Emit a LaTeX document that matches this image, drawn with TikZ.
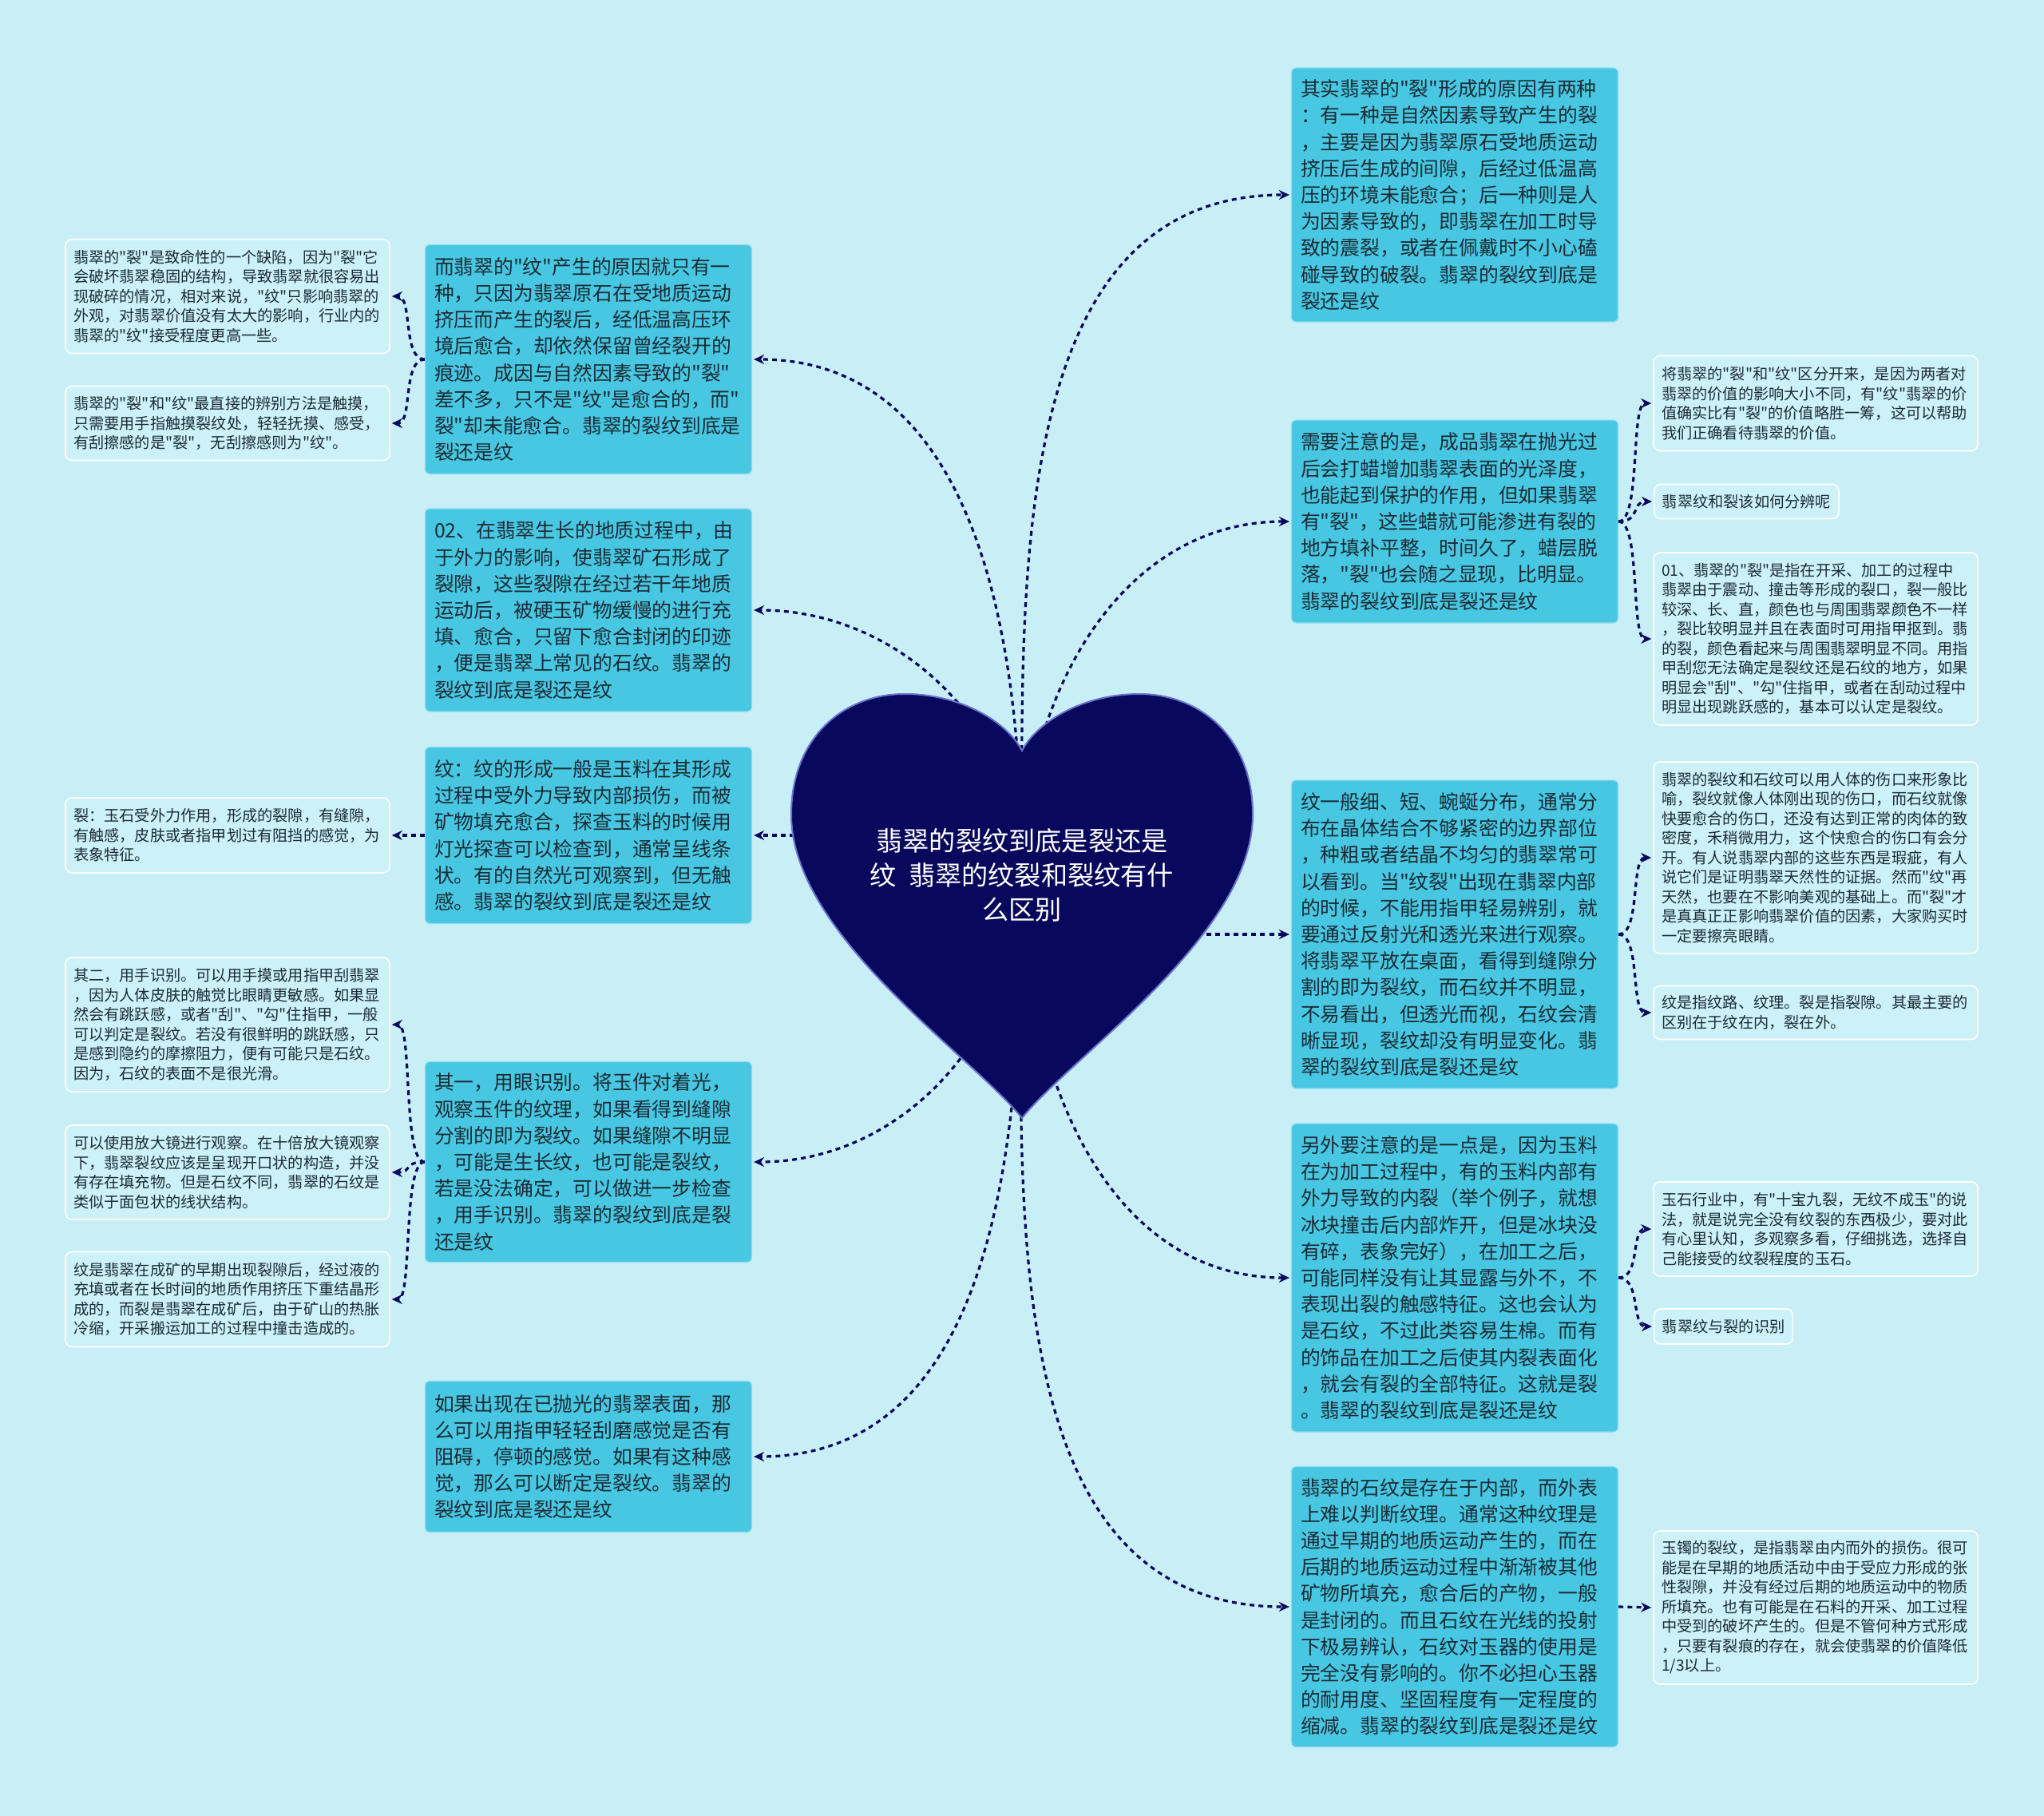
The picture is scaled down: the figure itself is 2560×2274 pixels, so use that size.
\documentclass[tikz,border=0pt]{standalone}
\usepackage{fontspec}
\newfontfamily\cjk{Noto Sans CJK SC}
\usetikzlibrary{arrows.meta}
\usetikzlibrary{positioning}
\definecolor{bgcyan}{HTML}{C8EEF6}
\definecolor{boxcyan}{HTML}{48C7E3}
\definecolor{boxedge}{HTML}{8FDDEF}
\definecolor{leaffill}{HTML}{CDF1F9}
\definecolor{inkdark}{HTML}{1B2B33}
\definecolor{navy}{HTML}{08085C}
\definecolor{heartedge}{HTML}{6A72D0}

\begin{document}
\begin{tikzpicture}[
    x=0.5pt, y=0.5pt,
    topic/.style={rectangle, rounded corners=3pt, fill=boxcyan, draw=boxedge, line width=0.6pt,
        text width=193pt, inner xsep=5.75pt, inner ysep=0pt, align=left, text=inkdark,
        font=\cjk\fontsize{12.4pt}{16.6pt}\selectfont},
    leaf/.style={rectangle, rounded corners=4pt, fill=leaffill, draw=white, line width=0.8pt,
        text width=193pt, inner xsep=5pt, inner ysep=0pt, align=left, text=inkdark,
        font=\cjk\fontsize{9.6pt}{12.25pt}\selectfont},
    tag/.style={rectangle, rounded corners=4pt, fill=leaffill, draw=white, line width=0.8pt,
        inner xsep=5pt, inner ysep=0pt, text=inkdark, anchor=west,
        font=\cjk\fontsize{9.6pt}{12.25pt}\selectfont},
    title/.style={align=center, text=white, font=\cjk\fontsize{16.6pt}{21.5pt}\selectfont},
    link/.style={draw=navy, line width=1.6pt, dash pattern=on 3pt off 2.6pt,
        -{Stealth[length=6.5pt,width=6pt]}, shorten >=1pt},
    >=Stealth
]

% --- Background ---
\fill[bgcyan] (0,0) rectangle (2560,-2274);
\useasboundingbox (0,0) rectangle (2560,-2274);

% --- Left topics ---
\node[topic, minimum height=143.5pt] (lm1) at (737,-450) {而翡翠的"纹"产生的原因就只有一\\种，只因为翡翠原石在受地质运动\\挤压而产生的裂后，经低温高压环\\境后愈合，却依然保留曾经裂开的\\痕迹。成因与自然因素导致的"裂"\\差不多，只不是"纹"是愈合的，而"\\裂"却未能愈合。翡翠的裂纹到底是\\裂还是纹};
\node[topic, minimum height=127pt] (lm2) at (737,-764) {02、在翡翠生长的地质过程中，由\\于外力的影响，使翡翠矿石形成了\\裂隙，这些裂隙在经过若干年地质\\运动后，被硬玉矿物缓慢的进行充\\填、愈合，只留下愈合封闭的印迹\\，便是翡翠上常见的石纹。翡翠的\\裂纹到底是裂还是纹};
\node[topic, minimum height=110.5pt] (lm3) at (737,-1046) {纹：纹的形成一般是玉料在其形成\\过程中受外力导致内部损伤，而被\\矿物填充愈合，探查玉料的时候用\\灯光探查可以检查到，通常呈线条\\状。有的自然光可观察到，但无触\\感。翡翠的裂纹到底是裂还是纹};
\node[topic, minimum height=125.5pt] (lm4) at (737,-1455) {其一，用眼识别。将玉件对着光，\\观察玉件的纹理，如果看得到缝隙\\分割的即为裂纹。如果缝隙不明显\\，可能是生长纹，也可能是裂纹，\\若是没法确定，可以做进一步检查\\，用手识别。翡翠的裂纹到底是裂\\还是纹};
\node[topic, minimum height=94.5pt] (lm5) at (737,-1824) {如果出现在已抛光的翡翠表面，那\\么可以用指甲轻轻刮磨感觉是否有\\阻碍，停顿的感觉。如果有这种感\\觉，那么可以断定是裂纹。翡翠的\\裂纹到底是裂还是纹};

% --- Left details ---
\node[leaf, minimum height=71.5pt] (ls1) at (285,-371) {翡翠的"裂"是致命性的一个缺陷，因为"裂"它\\会破坏翡翠稳固的结构，导致翡翠就很容易出\\现破碎的情况，相对来说，"纹"只影响翡翠的\\外观，对翡翠价值没有太大的影响，行业内的\\翡翠的"纹"接受程度更高一些。};
\node[leaf, minimum height=46.5pt] (ls2) at (285,-530) {翡翠的"裂"和"纹"最直接的辨别方法是触摸，\\只需要用手指触摸裂纹处，轻轻抚摸、感受，\\有刮擦感的是"裂"，无刮擦感则为"纹"。};
\node[leaf, minimum height=47pt] (ls3) at (285,-1046) {裂：玉石受外力作用，形成的裂隙，有缝隙，\\有触感，皮肤或者指甲划过有阻挡的感觉，为\\表象特征。};
\node[leaf, minimum height=84pt] (ls4) at (285,-1283) {其二，用手识别。可以用手摸或用指甲刮翡翠\\，因为人体皮肤的触觉比眼睛更敏感。如果显\\然会有跳跃感，或者"刮"、"勾"住指甲，一般\\可以判定是裂纹。若没有很鲜明的跳跃感，只\\是感到隐约的摩擦阻力，便有可能只是石纹。\\因为，石纹的表面不是很光滑。};
\node[leaf, minimum height=59pt] (ls5) at (285,-1468) {可以使用放大镜进行观察。在十倍放大镜观察\\下，翡翠裂纹应该是呈现开口状的构造，并没\\有存在填充物。但是石纹不同，翡翠的石纹是\\类似于面包状的线状结构。};
\node[leaf, minimum height=59.5pt] (ls6) at (285,-1627) {纹是翡翠在成矿的早期出现裂隙后，经过液的\\充填或者在长时间的地质作用挤压下重结晶形\\成的，而裂是翡翠在成矿后，由于矿山的热胀\\冷缩，开采搬运加工的过程中撞击造成的。};

% --- Right topics ---
\node[topic, minimum height=159pt] (rm1) at (1822,-244) {其实翡翠的"裂"形成的原因有两种\\：有一种是自然因素导致产生的裂\\，主要是因为翡翠原石受地质运动\\挤压后生成的间隙，后经过低温高\\压的环境未能愈合；后一种则是人\\为因素导致的，即翡翠在加工时导\\致的震裂，或者在佩戴时不小心磕\\碰导致的破裂。翡翠的裂纹到底是\\裂还是纹};
\node[topic, minimum height=127pt] (rm2) at (1822,-653) {需要注意的是，成品翡翠在抛光过\\后会打蜡增加翡翠表面的光泽度，\\也能起到保护的作用，但如果翡翠\\有"裂"，这些蜡就可能渗进有裂的\\地方填补平整，时间久了，蜡层脱\\落，"裂"也会随之显现，比明显。\\翡翠的裂纹到底是裂还是纹};
\node[topic, minimum height=193pt] (rm3) at (1822,-1170) {纹一般细、短、蜿蜒分布，通常分\\布在晶体结合不够紧密的边界部位\\，种粗或者结晶不均匀的翡翠常可\\以看到。当"纹裂"出现在翡翠内部\\的时候，不能用指甲轻易辨别，就\\要通过反射光和透光来进行观察。\\将翡翠平放在桌面，看得到缝隙分\\割的即为裂纹，而石纹并不明显，\\不易看出，但透光而视，石纹会清\\晰显现，裂纹却没有明显变化。翡\\翠的裂纹到底是裂还是纹};
\node[topic, minimum height=193pt] (rm4) at (1822,-1600) {另外要注意的是一点是，因为玉料\\在为加工过程中，有的玉料内部有\\外力导致的内裂（举个例子，就想\\冰块撞击后内部炸开，但是冰块没\\有碎，表象完好），在加工之后，\\可能同样没有让其显露与外不，不\\表现出裂的触感特征。这也会认为\\是石纹，不过此类容易生棉。而有\\的饰品在加工之后使其内裂表面化\\，就会有裂的全部特征。这就是裂\\。翡翠的裂纹到底是裂还是纹};
\node[topic, minimum height=175.5pt] (rm5) at (1822,-2012) {翡翠的石纹是存在于内部，而外表\\上难以判断纹理。通常这种纹理是\\通过早期的地质运动产生的，而在\\后期的地质运动过程中渐渐被其他\\矿物所填充，愈合后的产物，一般\\是封闭的。而且石纹在光线的投射\\下极易辨认，石纹对玉器的使用是\\完全没有影响的。你不必担心玉器\\的耐用度、坚固程度有一定程度的\\缩减。翡翠的裂纹到底是裂还是纹};

% --- Right details ---
\node[leaf, minimum height=59.5pt] (rs1) at (2274,-505) {将翡翠的"裂"和"纹"区分开来，是因为两者对\\翡翠的价值的影响大小不同，有"纹"翡翠的价\\值确实比有"裂"的价值略胜一筹，这可以帮助\\我们正确看待翡翠的价值。};
\node[tag, minimum height=21.5pt] (rs2) at (2071,-628) {翡翠纹和裂该如何分辨呢};
\node[leaf, minimum height=108pt] (rs3) at (2274,-800) {01、翡翠的"裂"是指在开采、加工的过程中\\翡翠由于震动、撞击等形成的裂口，裂一般比\\较深、长、直，颜色也与周围翡翠颜色不一样\\，裂比较明显并且在表面时可用指甲抠到。翡\\的裂，颜色看起来与周围翡翠明显不同。用指\\甲刮您无法确定是裂纹还是石纹的地方，如果\\明显会"刮"、"勾"住指甲，或者在刮动过程中\\明显出现跳跃感的，基本可以认定是裂纹。};
\node[leaf, minimum height=120pt] (rs4) at (2274,-1074) {翡翠的裂纹和石纹可以用人体的伤口来形象比\\喻，裂纹就像人体刚出现的伤口，而石纹就像\\快要愈合的伤口，还没有达到正常的肉体的致\\密度，禾稍微用力，这个快愈合的伤口有会分\\开。有人说翡翠内部的这些东西是瑕疵，有人\\说它们是证明翡翠天然性的证据。然而"纹"再\\天然，也要在不影响美观的基础上。而"裂"才\\是真真正正影响翡翠价值的因素，大家购买时\\一定要擦亮眼睛。};
\node[leaf, minimum height=33.5pt] (rs5) at (2274,-1268) {纹是指纹路、纹理。裂是指裂隙。其最主要的\\区别在于纹在内，裂在外。};
\node[leaf, minimum height=59pt] (rs6) at (2274,-1539) {玉石行业中，有"十宝九裂，无纹不成玉"的说\\法，就是说完全没有纹裂的东西极少，要对此\\有心里认知，多观察多看，仔细挑选，选择自\\己能接受的纹裂程度的玉石。};
\node[tag, minimum height=22pt] (rs7) at (2071,-1661) {翡翠纹与裂的识别};
\node[leaf, minimum height=96pt] (rs8) at (2274,-2013) {玉镯的裂纹，是指翡翠由内而外的损伤。很可\\能是在早期的地质活动中由于受应力形成的张\\性裂隙，并没有经过后期的地质运动中的物质\\所填充。也有可能是在石料的开采、加工过程\\中受到的破坏产生的。但是不管何种方式形成\\，只要有裂痕的存在，就会使翡翠的价值降低\\1/3以上。};

% --- Hub points under the heart ---
\coordinate (hub) at (1280,-1096);
\coordinate (hubL) at (1040,-1046);
\coordinate (hubR) at (1500,-1170);

% --- Heart to topics ---
\foreach \b in {lm1,lm2}
    \draw[link] (hub) to[out=90,in=0] (\b.east);
\foreach \b in {lm4,lm5}
    \draw[link] (hub) to[out=-90,in=0] (\b.east);
\foreach \b in {rm1,rm2}
    \draw[link] (hub) to[out=90,in=180] (\b.west);
\foreach \b in {rm4,rm5}
    \draw[link] (hub) to[out=-90,in=180] (\b.west);
\draw[link] (hubL) -- (lm3.east);
\draw[link] (hubR) -- (rm3.west);

% --- Topics to details ---
\foreach \s in {ls1,ls2}
    \draw[link] (lm1.west) to[out=180,in=0,distance=14pt] (\s.east);
\draw[link] (lm3.west) -- (ls3.east);
\foreach \s in {ls4,ls5,ls6}
    \draw[link] (lm4.west) to[out=180,in=0,distance=14pt] (\s.east);
\foreach \s in {rs1,rs2,rs3}
    \draw[link] (rm2.east) to[out=0,in=180,distance=14pt] (\s.west);
\foreach \s in {rs4,rs5}
    \draw[link] (rm3.east) to[out=0,in=180,distance=14pt] (\s.west);
\foreach \s in {rs6,rs7}
    \draw[link] (rm4.east) to[out=0,in=180,distance=14pt] (\s.west);
\draw[link] (rm5.east) -- (rs8.west);

% --- Heart ---
\draw[fill=navy, draw=heartedge, line width=1pt]
    (1280,-1400) .. controls (1215,-1320) and (991,-1170) .. (991,-1020)
    .. controls (991,-925) and (1055,-869) .. (1133,-869)
    .. controls (1205,-869) and (1262,-905) .. (1280,-940)
    .. controls (1298,-905) and (1355,-869) .. (1427,-869)
    .. controls (1505,-869) and (1569,-925) .. (1569,-1020)
    .. controls (1569,-1170) and (1345,-1320) .. (1280,-1400) -- cycle;
\node[title] (title) at (1280,-1096) {翡翠的裂纹到底是裂还是\\纹~~翡翠的纹裂和裂纹有什\\么区别};

\end{tikzpicture}
\end{document}
